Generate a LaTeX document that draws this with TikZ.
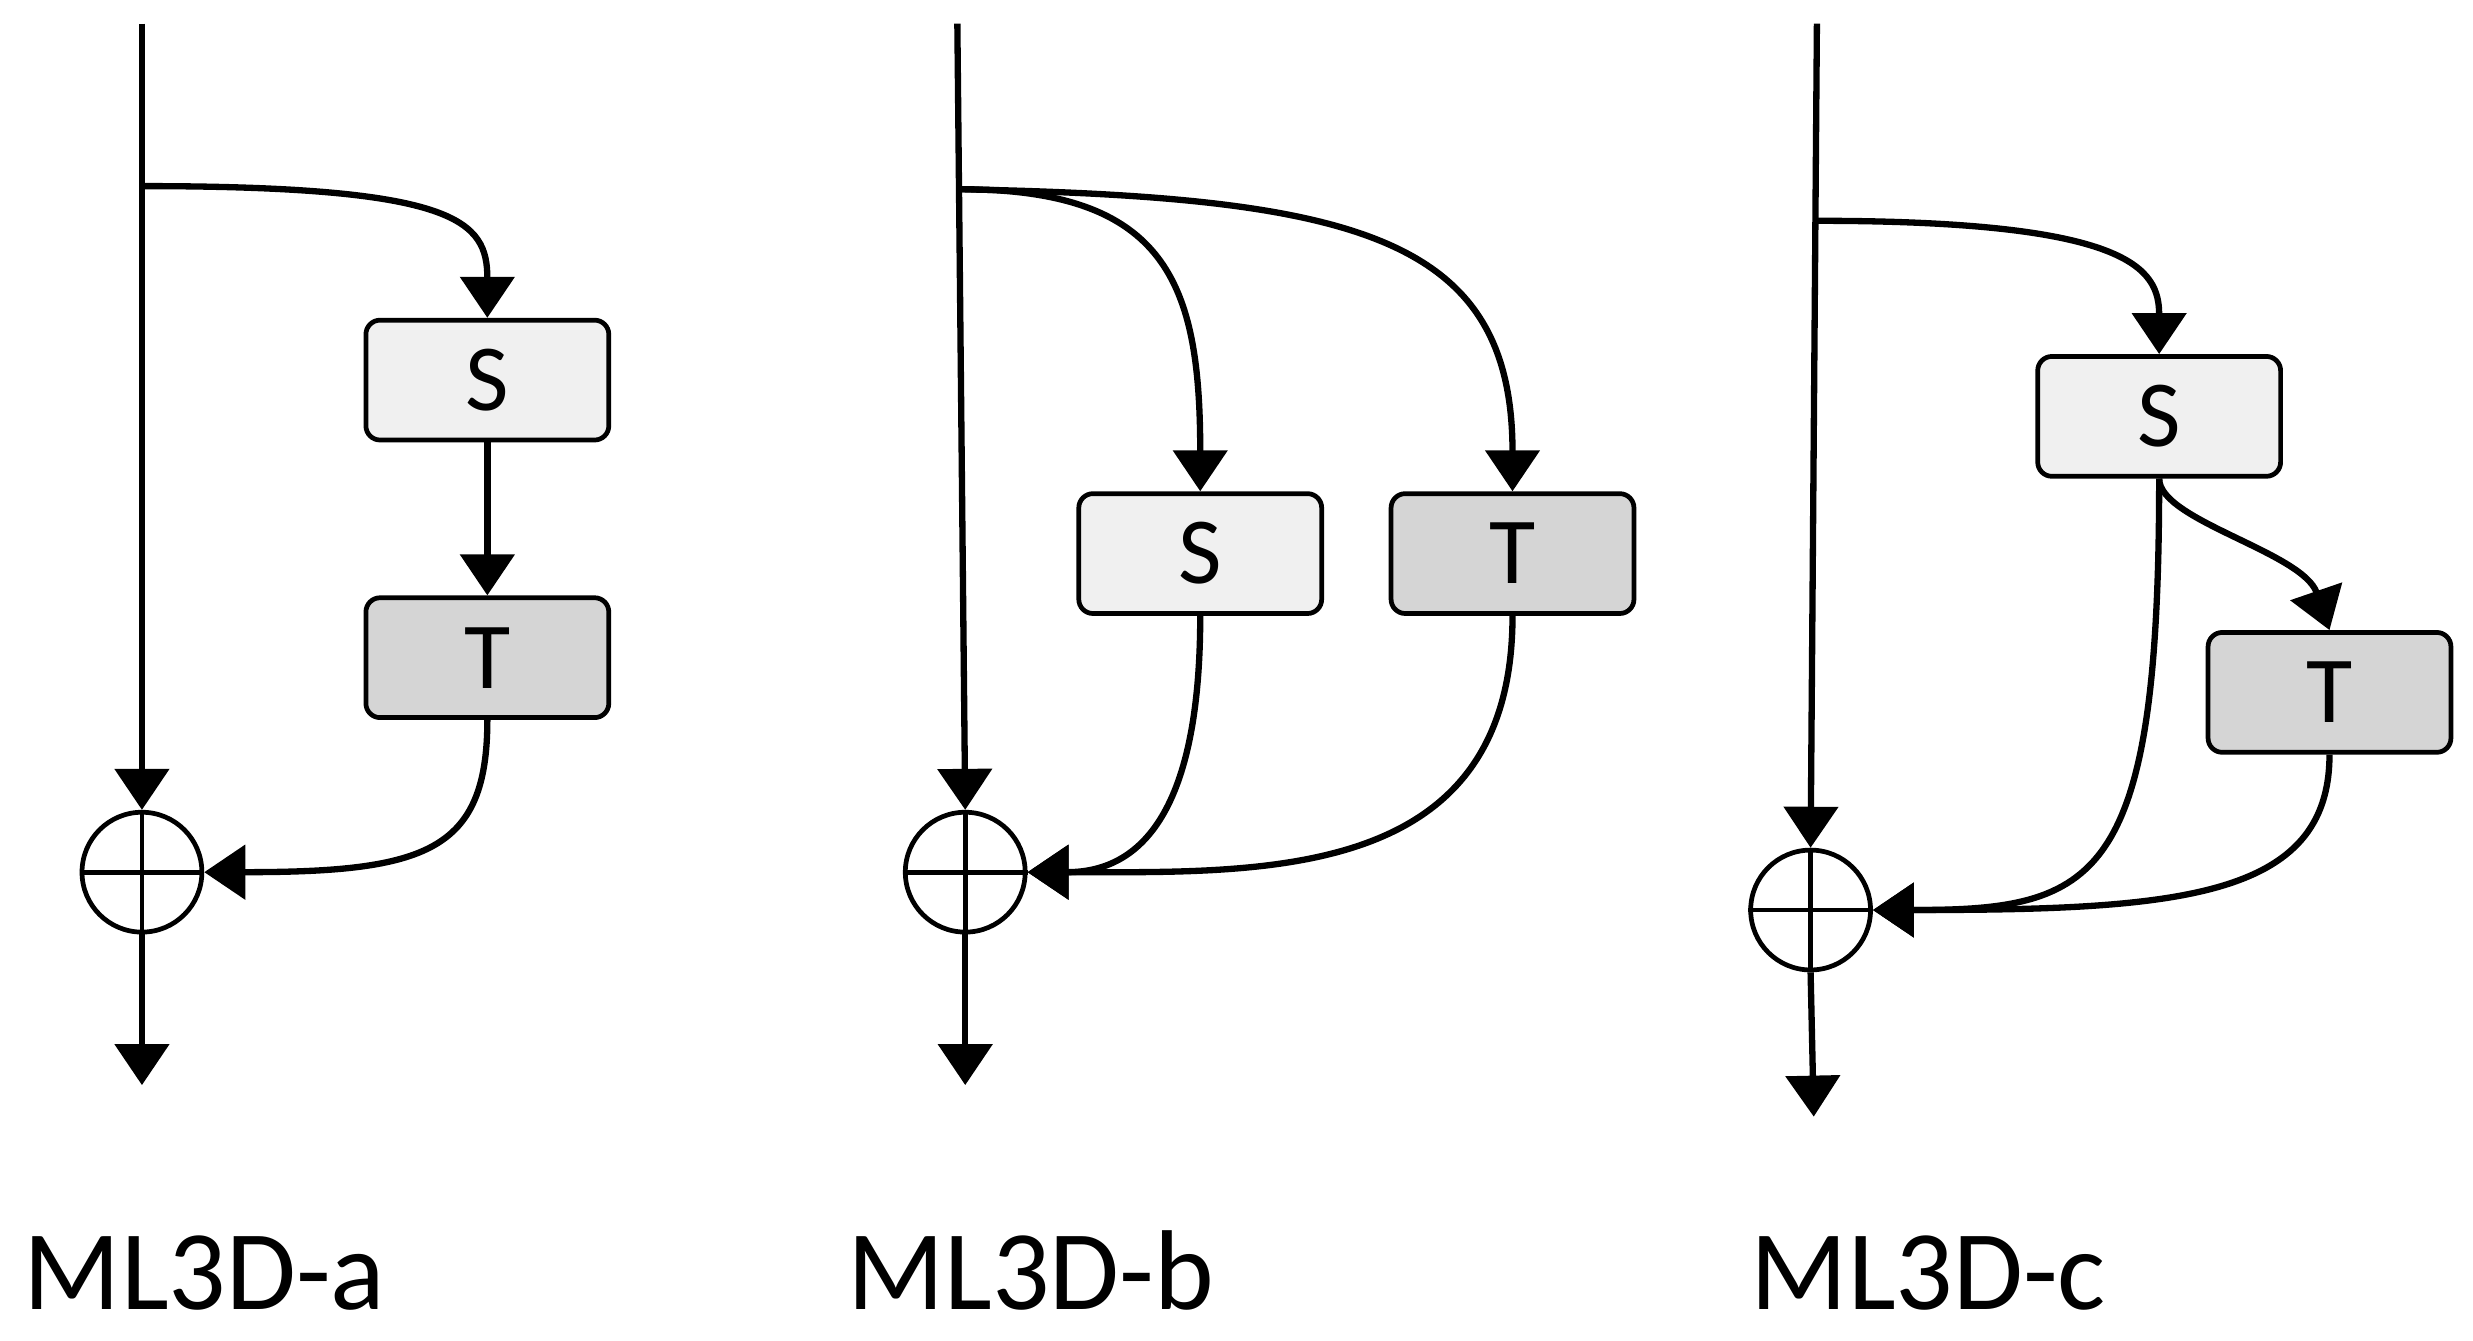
\documentclass[tikz,border=0pt]{standalone}
\usepackage{fontspec}
\setmainfont{Carlito}
\usetikzlibrary{arrows.meta}
\begin{document}
\begin{tikzpicture}[x=1pt,y=-1pt,
  ln/.style={line width=4pt},
  ar/.style={ln,-{Triangle[width=34pt,length=26pt]}},
  box/.style={draw,line width=3pt,rounded corners=9pt,minimum width=154pt,minimum height=76pt,font=\fontsize{60}{60}\selectfont,inner sep=0pt},
  sbox/.style={box,fill=gray!12},
  tbox/.style={box,fill=gray!33},
  sumc/.style={draw,circle,line width=3pt,minimum size=76pt,inner sep=0pt},
  lab/.style={anchor=base west,font=\fontsize{72}{72}\selectfont,inner sep=0pt}]
\useasboundingbox (0,0) rectangle (1568,850);
% ---- a
\coordinate (a0) at (90,15);
\coordinate (ab) at (90,118);
\coordinate (aout) at (90,688);
\node[sbox] (aS) at (309,241) {S};
\node[tbox] (aT) at (309,417) {T};
\node[sumc] (ac) at (90,553) {};
\draw[line width=3pt] (ac.north)--(ac.south) (ac.west)--(ac.east);
\draw[ar] (a0) -- (ac.north);
\draw[ar] (ac.south) -- (aout);
\draw[ar] (ab) .. controls (290,118) and (309,140) .. (aS.north);
\draw[ar] (aS.south) -- (aT.north);
\draw[ar] (aT.south) .. controls (309,540) and (270,553) .. (ac.east);
\node[lab] (la) at (15,830) {ML3D-a};
% ---- b
\coordinate (b0) at (607,15);
\coordinate (bb) at (609,120);
\coordinate (bout) at (612,688);
\node[sbox] (bS) at (761,351) {S};
\node[tbox] (bT) at (959,351) {T};
\node[sumc] (bc) at (612,553) {};
\draw[line width=3pt] (bc.north)--(bc.south) (bc.west)--(bc.east);
\draw[ar] (b0) -- (bc.north);
\draw[ar] (bc.south) -- (bout);
\draw[ar] (bb) .. controls (740,120) and (761,180) .. (bS.north);
\draw[ar] (bb) .. controls (860,125) and (959,150) .. (bT.north);
\draw[ar] (bS.south) .. controls (761,520) and (720,553) .. (bc.east);
\draw[ar] (bT.south) .. controls (959,560) and (800,553) .. (bc.east);
\node[lab] (lb) at (537,830) {ML3D-b};
% ---- c
\coordinate (c0) at (1152,15);
\coordinate (cb) at (1152,140);
\coordinate (cout) at (1150,708);
\node[sbox] (cS) at (1369,264) {S};
\node[tbox] (cT) at (1477,439) {T};
\node[sumc] (cc) at (1148,577) {};
\draw[line width=3pt] (cc.north)--(cc.south) (cc.west)--(cc.east);
\draw[ar] (c0) -- (cc.north);
\draw[ar] (cc.south) -- (cout);
\draw[ar] (cb) .. controls (1350,140) and (1369,170) .. (cS.north);
\draw[ar] (cS.south) .. controls (1369,330) and (1460,350) .. (cT.north);
\draw[ar] (cS.south) .. controls (1369,560) and (1330,577) .. (cc.east);
\draw[ar] (cT.south) .. controls (1477,570) and (1380,577) .. (cc.east);
\node[lab] (lc) at (1110,830) {ML3D-c};
\end{tikzpicture}
\end{document}
